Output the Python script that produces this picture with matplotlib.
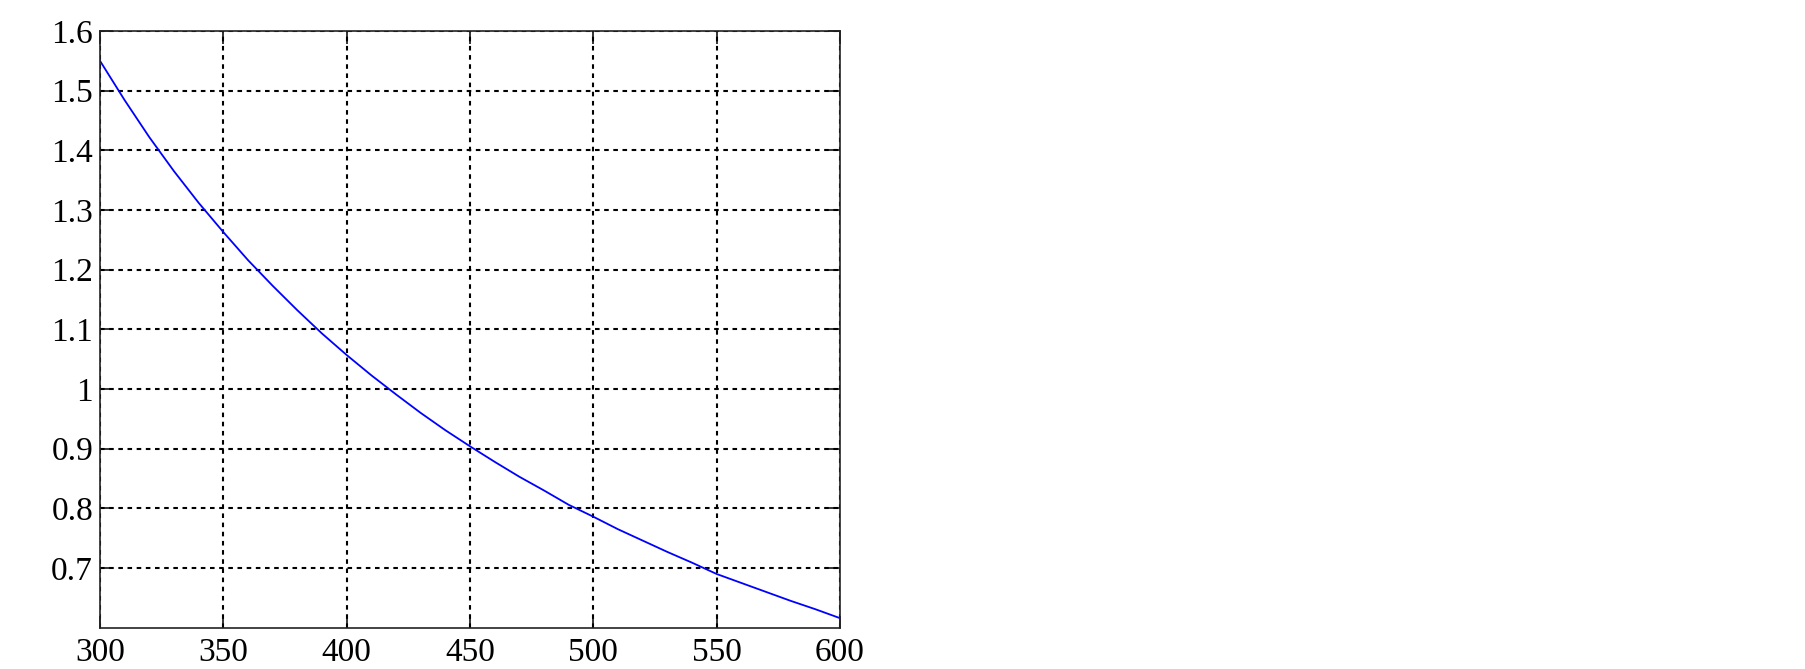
import matplotlib
matplotlib.use("Agg")
import matplotlib.pyplot as plt
from matplotlib.ticker import FormatStrFormatter

# values, every 10 units along x
x_vals = [300, 310, 320, 330, 340, 350, 360, 370, 380, 390, 400,
          410, 420, 430, 440, 450, 460, 470, 480, 490, 500,
          510, 520, 530, 540, 550, 560, 570, 580, 590, 600]
y_vals = [1.550, 1.484, 1.422, 1.365, 1.312, 1.263, 1.216, 1.173, 1.132, 1.093, 1.057,
          1.023, 0.991, 0.960, 0.931, 0.904, 0.878, 0.853, 0.830, 0.806, 0.786,
          0.765, 0.746, 0.727, 0.709, 0.690, 0.675, 0.660, 0.645, 0.631, 0.616]
x_ticks = [300, 350, 400, 450, 500, 550, 600]
y_ticks = [0.7, 0.8, 0.9, 1.0, 1.1, 1.2, 1.3, 1.4, 1.5, 1.6]

plt.rcParams['font.family'] = ['Liberation Serif', 'DejaVu Serif']

fig = plt.figure(figsize=(18.05, 6.69), dpi=100)
ax = fig.add_axes([100 / 1805, 41.3 / 669, 740 / 1805, 596.7 / 669])

ax.plot(x_vals, y_vals, color='#0000ff', linewidth=1.3)

ax.set_xlim(300, 600)
ax.set_ylim(0.6, 1.6)
ax.set_xticks(x_ticks)
ax.set_yticks(y_ticks)
ax.yaxis.set_major_formatter(FormatStrFormatter('%g'))

ax.grid(True, color='black', linestyle=(0, (2.2, 2.2)), linewidth=1.5)
ax.tick_params(direction='in', length=9, width=1.1, labelsize=24,
               top=True, right=True)
ax.tick_params(axis='x', pad=7)
ax.tick_params(axis='y', pad=5)
for s in ax.spines.values():
    s.set_linewidth(1.2)
    s.set_color('#222222')

fig.savefig('out.png', dpi=100)
